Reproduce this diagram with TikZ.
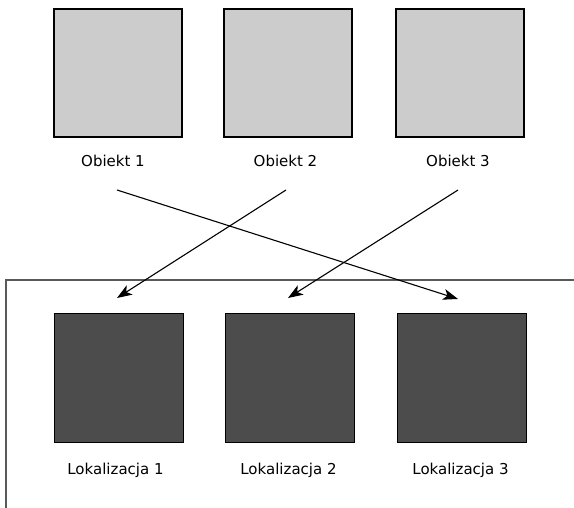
\documentclass[tikz,border=0pt]{standalone}
\usepackage{fontspec}
\setmainfont{DejaVu Sans}
\usetikzlibrary{arrows.meta}
\begin{document}
\begin{tikzpicture}[x=1pt,y=-1pt,
  objbox/.style={draw=black,line width=2pt,fill=black!20,minimum width=128pt,minimum height=128pt,inner sep=0pt},
  locbox/.style={draw=black,line width=1.6pt,fill=black!70,minimum width=129pt,minimum height=129pt,inner sep=0pt},
  lbl/.style={font=\fontsize{15}{17}\selectfont,inner sep=0pt,anchor=base},
  conn/.style={line width=1.1pt,-{Stealth[length=15pt,width=11pt,inset=4pt]}},
  frame/.style={draw=black!65,line width=1.5pt}]
\useasboundingbox (0,0) rectangle (574,508);
% top objects
\node[objbox] (o1) at (118,73) {};
\node[objbox] (o2) at (288,73) {};
\node[objbox] (o3) at (460,73) {};
\node[lbl] (t1) at (113,166.5) {Obiekt 1};
\node[lbl] (t2) at (285.5,166.5) {Obiekt 2};
\node[lbl] (t3) at (458,166.5) {Obiekt 3};
% frame
\coordinate (fr) at (574,280);
\coordinate (fc) at (6,280);
\coordinate (fb) at (6,508);
\draw[frame] (fr) -- (fc) -- (fb);
% locations
\node[locbox] (l1) at (119,378) {};
\node[locbox] (l2) at (290,378) {};
\node[locbox] (l3) at (462,378) {};
\node[lbl] (b1) at (115.5,474) {Lokalizacja 1};
\node[lbl] (b2) at (288.5,474) {Lokalizacja 2};
\node[lbl] (b3) at (460.5,474) {Lokalizacja 3};
% arrows
\coordinate (s1) at (117,190);
\coordinate (e1) at (458,299);
\coordinate (s2) at (286,190);
\coordinate (e2) at (117,298);
\coordinate (s3) at (458,190);
\coordinate (e3) at (288,298);
\draw[conn] (s1) -- (e1);
\draw[conn] (s2) -- (e2);
\draw[conn] (s3) -- (e3);
\end{tikzpicture}
\end{document}
